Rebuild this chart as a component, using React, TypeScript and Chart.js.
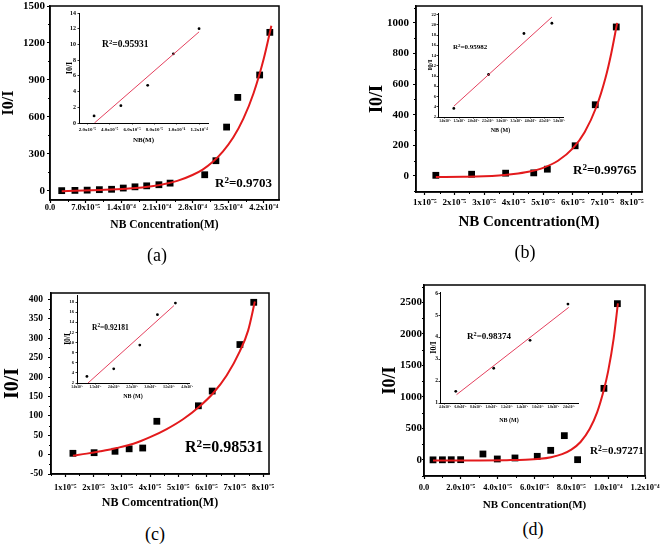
import React, { useEffect, useRef } from "react";
import { Chart, registerables } from "chart.js";

Chart.register(...registerables);

const SERIF = "'Liberation Serif', 'Times New Roman', Times, serif";
Chart.defaults.font.family = SERIF;

// ---------------- Panel (a) ----------------
const aX = [2.3e-5, 4.9e-5, 7.3e-5, 9.7e-5, 1.21e-4, 1.44e-4, 1.67e-4, 1.9e-4, 2.14e-4, 2.36e-4, 3.04e-4, 3.26e-4, 3.47e-4, 3.69e-4, 4.12e-4, 4.32e-4];
const aY = [1, 3, 5, 9, 12, 22, 32, 40, 49, 62, 130, 244, 517, 758, 940, 1286];
const aFitX = [2.3e-5, 1.0e-4, 1.5e-4, 2.0e-4, 2.5e-4, 2.8e-4, 3.0e-4, 3.2e-4, 3.4e-4, 3.6e-4, 3.8e-4, 4.0e-4, 4.2e-4, 4.35e-4];
const aFitY = [-4, 6, 16, 36, 80, 128, 172, 235, 320, 432, 585, 792, 1072, 1340];
const aXTicks = [0, 7e-5, 1.4e-4, 2.1e-4, 2.8e-4, 3.5e-4, 4.2e-4];
const aXLabels = ["0.0", "7.0x10⁻⁵", "1.4x10⁻⁴", "2.1x10⁻⁴", "2.8x10⁻⁴", "3.5x10⁻⁴", "4.2x10⁻⁴"];
const aYTicks = [0, 300, 600, 900, 1200, 1500];
// inset (a)
const iaX = [2.6e-5, 5.0e-5, 7.4e-5, 9.7e-5, 1.2e-4];
const iaY = [0.9, 2.2, 4.8, 8.8, 12.0];
const iaFitX = [2.63e-5, 1.2e-4];
const iaFitY = [0, 11.6];
const iaXTicks = [2e-5, 4e-5, 6e-5, 8e-5, 1.0e-4, 1.2e-4];
const iaXLabels = ["2.0x10⁻⁵", "4.0x10⁻⁵", "6.0x10⁻⁵", "8.0x10⁻⁵", "1.0x10⁻⁴", "1.2x10⁻⁴"];
const iaYTicks = [0, 2, 4, 6, 8, 10, 12, 14];

// ---------------- Panel (b) ----------------
const bX = [1.37e-5, 2.58e-5, 3.73e-5, 4.68e-5, 5.14e-5, 6.08e-5, 6.76e-5, 7.47e-5];
const bY = [4, 11, 18, 20, 44, 197, 465, 973];
const bFitX = [1.37e-5, 2.3e-5, 3.0e-5, 3.5e-5, 4.0e-5, 4.5e-5, 5.0e-5, 5.5e-5, 6.0e-5, 6.4e-5, 6.8e-5, 7.1e-5, 7.3e-5, 7.5e-5];
const bFitY = [-7, -5, -2, 3, 12, 27, 53, 99, 180, 286, 452, 636, 800, 1000];
const bXTicks = [1e-5, 2e-5, 3e-5, 4e-5, 5e-5, 6e-5, 7e-5, 8e-5];
const bXLabels = ["1x10⁻⁵", "2x10⁻⁵", "3x10⁻⁵", "4x10⁻⁵", "5x10⁻⁵", "6x10⁻⁵", "7x10⁻⁵", "8x10⁻⁵"];
const bYTicks = [0, 200, 400, 600, 800, 1000];
// inset (b)
const ibX = [1.31e-5, 2.53e-5, 3.77e-5, 4.75e-5];
const ibY = [3.67, 10.3, 18.3, 20.3];
const ibFitX = [1.31e-5, 4.75e-5];
const ibFitY = [4.1, 21.5];
const ibXTicks = [1.0e-5, 1.5e-5, 2.0e-5, 2.5e-5, 3.0e-5, 3.5e-5, 4.0e-5, 4.5e-5, 5.0e-5];
const ibXLabels = ["1.0x10⁻⁵", "1.5x10⁻⁵", "2.0x10⁻⁵", "2.5x10⁻⁵", "3.0x10⁻⁵", "3.5x10⁻⁵", "4.0x10⁻⁵", "4.5x10⁻⁵", "5.0x10⁻⁵"];
const ibYTicks = [2, 4, 6, 8, 10, 12, 14, 16, 18, 20, 22];

// ---------------- Panel (c) ----------------
const cX = [1.27e-5, 2.02e-5, 2.76e-5, 3.26e-5, 3.74e-5, 4.24e-5, 5.71e-5, 6.2e-5, 7.18e-5, 7.67e-5];
const cY = [3.4, 5, 8.6, 15, 17, 86, 126, 164, 284, 393];
const cFitX = [1.27e-5, 1.76e-5, 2.24e-5, 2.82e-5, 3.41e-5, 4.0e-5, 4.59e-5, 5.18e-5, 5.76e-5, 6.24e-5, 6.71e-5, 7.18e-5, 7.47e-5, 7.71e-5];
const cFitY = [-2.6, 2.6, 8.6, 17, 28, 45, 66, 92, 125, 159, 204, 267, 320, 395];
const cXTicks = [1e-5, 2e-5, 3e-5, 4e-5, 5e-5, 6e-5, 7e-5, 8e-5];
const cXLabels = ["1x10⁻⁵", "2x10⁻⁵", "3x10⁻⁵", "4x10⁻⁵", "5x10⁻⁵", "6x10⁻⁵", "7x10⁻⁵", "8x10⁻⁵"];
const cYTicks = [-50, 0, 50, 100, 150, 200, 250, 300, 350, 400];
// inset (c)
const icX = [1.27e-5, 2.0e-5, 2.71e-5, 3.19e-5, 3.68e-5];
const icY = [3.3, 4.8, 9.5, 15.5, 17.8];
const icFitX = [1.3e-5, 3.64e-5];
const icFitY = [2, 17.3];
const icXTicks = [1.0e-5, 1.5e-5, 2.0e-5, 2.5e-5, 3.0e-5, 3.5e-5, 4.0e-5];
const icXLabels = ["1.0x10⁻⁵", "1.5x10⁻⁵", "2.0x10⁻⁵", "2.5x10⁻⁵", "3.0x10⁻⁵", "3.5x10⁻⁵", "4.0x10⁻⁵"];
const icYTicks = [2, 4, 6, 8, 10, 12, 14, 16, 18];

// ---------------- Panel (d) ----------------
const dX = [4.9e-6, 1.0e-5, 1.48e-5, 1.99e-5, 3.2e-5, 3.98e-5, 4.94e-5, 6.15e-5, 6.88e-5, 7.62e-5, 8.34e-5, 9.77e-5, 1.05e-4];
const dY = [2, 3, 4, 5, 95, 16, 32, 58, 153, 386, 5, 1136, 2479];
const dFitX = [4.9e-6, 3.0e-5, 4.5e-5, 5.5e-5, 6.3e-5, 6.9e-5, 7.5e-5, 8.0e-5, 8.5e-5, 9.0e-5, 9.4e-5, 9.77e-5, 1.0e-4, 1.03e-4, 1.053e-4];
const dFitY = [-8, -7, -3, 3, 18, 44, 92, 164, 285, 495, 755, 1118, 1410, 1930, 2484];
const dXTicks = [0, 2e-5, 4e-5, 6e-5, 8e-5, 1.0e-4, 1.2e-4];
const dXLabels = ["0.0", "2.0x10⁻⁵", "4.0x10⁻⁵", "6.0x10⁻⁵", "8.0x10⁻⁵", "1.0x10⁻⁴", "1.2x10⁻⁴"];
const dYTicks = [0, 500, 1000, 1500, 2000, 2500];
// inset (d)
const idX = [5.4e-6, 1.03e-5, 1.5e-5, 1.99e-5];
const idY = [1.53, 2.58, 3.85, 5.5];
const idFitX = [5.5e-6, 2.0e-5];
const idFitY = [1.38, 5.35];
const idXTicks = [4e-6, 6e-6, 8e-6, 1.0e-5, 1.2e-5, 1.4e-5, 1.6e-5, 1.8e-5, 2.0e-5];
const idXLabels = ["4.0x10⁻⁶", "6.0x10⁻⁶", "8.0x10⁻⁶", "1.0x10⁻⁵", "1.2x10⁻⁵", "1.4x10⁻⁵", "1.6x10⁻⁵", "1.8x10⁻⁵", "2.0x10⁻⁵"];
const idYTicks = [1, 2, 3, 4, 5, 6];

const MAIN_RED = "#e31a1c";
const INSET_RED = "#e4405e";

type Spec = {
  frame: [number, number, number, number];
  box: boolean;
  minor: boolean;
  xMin: number; xMax: number; yMin: number; yMax: number;
  xTicks: number[]; xLabels: string[]; yTicks: number[];
  px: number[]; py: number[]; fx: number[]; fy: number[];
  ptStyle: string; ptRadius: number;
  fitColor: string; fitWidth: number; smooth: boolean;
  axisWidth: number;
  xTickLen: number; yTickLen: number;
  xTickSize: number; yTickSize: number;
  xTickCenter: number; yTickRight: number;
  xTitle: string; xTitleSize: number; xTitleY: number;
  yTitle: string; yTitleSize: number; yTitleX: number;
  minPadL: number; padT: number; padR: number;
};

function geom(s: Spec) {
  const [l, t, r, b] = s.frame;
  const canvasL = Math.floor(Math.min(l - s.minPadL, s.yTitleX - s.yTitleSize / 2 - 1));
  const canvasT = t - s.padT;
  const canvasB = Math.ceil(s.xTitleY + s.xTitleSize / 2 + 1);
  return {
    left: canvasL,
    top: canvasT,
    w: r + s.padR - canvasL,
    h: canvasB - canvasT,
    padL: l - canvasL,
    padB: canvasB - b,
    canvasB,
  };
}

// minor tick values halfway between the major ones (axis decoration only)
function halfSteps(ticks: number[], min: number, max: number) {
  const out: number[] = [];
  const step = ticks[1] - ticks[0];
  for (let i = 0; i < ticks.length; i++) {
    const before = ticks[i] - step / 2;
    const after = ticks[i] + step / 2;
    if (i === 0 && before >= min) out.push(before);
    if (after <= max) out.push(after);
  }
  return out;
}

function makeConfig(s: Spec): any {
  const g = geom(s);
  const [l, , , b] = s.frame;
  const boxPlugin = {
    id: "frameBox",
    afterDraw(chart: any) {
      const { ctx, chartArea: a } = chart;
      ctx.save();
      ctx.strokeStyle = "#000";
      if (s.minor) {
        ctx.lineWidth = 1;
        const xs = chart.scales.x;
        const ys = chart.scales.y;
        for (const v of halfSteps(s.xTicks, s.xMin, s.xMax)) {
          const px = Math.round(xs.getPixelForValue(v)) + 0.5;
          ctx.beginPath();
          ctx.moveTo(px, a.bottom);
          ctx.lineTo(px, a.bottom + 2);
          ctx.stroke();
        }
        for (const v of halfSteps(s.yTicks, s.yMin, s.yMax)) {
          const py = Math.round(ys.getPixelForValue(v)) + 0.5;
          ctx.beginPath();
          ctx.moveTo(a.left, py);
          ctx.lineTo(a.left - 2, py);
          ctx.stroke();
        }
      }
      if (s.box) {
        ctx.lineWidth = s.axisWidth;
        ctx.strokeRect(a.left, a.top, a.right - a.left, a.bottom - a.top);
      }
      ctx.restore();
    },
  };
  return {
    type: "scatter",
    data: {
      datasets: [
        {
          data: s.fx.map((x, i) => ({ x, y: s.fy[i] })),
          showLine: true,
          borderColor: s.fitColor,
          borderWidth: s.fitWidth,
          pointRadius: 0,
          cubicInterpolationMode: s.smooth ? "monotone" : "default",
          tension: 0,
          fill: false,
        },
        {
          data: s.px.map((x, i) => ({ x, y: s.py[i] })),
          showLine: false,
          pointStyle: s.ptStyle,
          pointRadius: s.ptRadius,
          backgroundColor: "#000",
          borderColor: "#000",
          borderWidth: 0,
        },
      ],
    },
    options: {
      responsive: false,
      animation: false,
      devicePixelRatio: 1,
      events: [],
      layout: { padding: { left: 0, top: s.padT, right: s.padR, bottom: 0 } },
      plugins: { legend: { display: false }, tooltip: { enabled: false } },
      scales: {
        x: {
          type: "linear",
          position: "bottom",
          min: s.xMin,
          max: s.xMax,
          afterBuildTicks: (sc: any) => {
            sc.ticks = s.xTicks.map((v) => ({ value: v }));
          },
          afterFit: (sc: any) => {
            sc.height = g.padB;
          },
          grid: {
            display: true,
            drawOnChartArea: false,
            drawTicks: true,
            tickLength: s.xTickLen,
            tickWidth: s.axisWidth * 0.8,
            tickColor: "#000",
          },
          border: { display: true, color: "#000", width: s.axisWidth },
          ticks: {
            autoSkip: false,
            maxRotation: 0,
            minRotation: 0,
            color: "#000",
            padding: Math.max(0, s.xTickCenter - b - s.xTickLen - s.xTickSize / 2),
            font: { family: SERIF, size: s.xTickSize, weight: "bold", lineHeight: 1 },
            callback: (_v: any, i: number) => s.xLabels[i],
          },
          title: {
            display: true,
            text: s.xTitle,
            color: "#000",
            font: { family: SERIF, size: s.xTitleSize, weight: "bold", lineHeight: 1 },
            padding: { top: 0, bottom: Math.max(0, g.canvasB - s.xTitleY - s.xTitleSize / 2) },
          },
        },
        y: {
          type: "linear",
          position: "left",
          min: s.yMin,
          max: s.yMax,
          afterBuildTicks: (sc: any) => {
            sc.ticks = s.yTicks.map((v) => ({ value: v }));
          },
          afterFit: (sc: any) => {
            sc.width = g.padL;
          },
          grid: {
            display: true,
            drawOnChartArea: false,
            drawTicks: true,
            tickLength: s.yTickLen,
            tickWidth: s.axisWidth * 0.8,
            tickColor: "#000",
          },
          border: { display: true, color: "#000", width: s.axisWidth },
          ticks: {
            autoSkip: false,
            color: "#000",
            padding: Math.max(0, l - s.yTickLen - s.yTickRight),
            font: { family: SERIF, size: s.yTickSize, weight: "bold", lineHeight: 1 },
            callback: (v: any) => String(v),
          },
          title: {
            display: true,
            text: s.yTitle,
            color: "#000",
            font: { family: SERIF, size: s.yTitleSize, weight: "bold", lineHeight: 1 },
            padding: { top: Math.max(0, s.yTitleX - g.left - s.yTitleSize / 2), bottom: 0 },
          },
        },
      },
    },
    plugins: [boxPlugin],
  };
}

const mainBase = {
  box: true,
  minor: true,
  ptStyle: "rect",
  ptRadius: 4.8,
  fitColor: MAIN_RED,
  fitWidth: 2,
  smooth: true,
  axisWidth: 1.5,
  xTickLen: 3,
  yTickLen: 3,
  minPadL: 30,
  padT: 10,
  padR: 22,
};

const insetBase = {
  box: false,
  minor: false,
  ptStyle: "circle",
  ptRadius: 1.4,
  fitColor: INSET_RED,
  fitWidth: 1,
  smooth: false,
  axisWidth: 1,
  xTickLen: 1.5,
  yTickLen: 1.5,
  minPadL: 12,
  padT: 6,
  padR: 14,
};

const specs: Spec[] = [
  {
    ...mainBase,
    frame: [50, 6, 279, 200],
    xMin: 0, xMax: 4.5e-4, yMin: -75, yMax: 1500,
    xTicks: aXTicks, xLabels: aXLabels, yTicks: aYTicks,
    px: aX, py: aY, fx: aFitX, fy: aFitY,
    xTickSize: 8.5, yTickSize: 11, xTickCenter: 208, yTickRight: 45,
    xTitle: "NB Concentration(M)", xTitleSize: 11.5, xTitleY: 225,
    yTitle: "I0/I", yTitleSize: 16, yTitleX: 9,
  },
  {
    ...mainBase,
    frame: [416, 6, 642, 192],
    xMin: 0.7e-5, xMax: 8.34e-5, yMin: -105, yMax: 1110,
    xTicks: bXTicks, xLabels: bXLabels, yTicks: bYTicks,
    px: bX, py: bY, fx: bFitX, fy: bFitY,
    xTickSize: 9, yTickSize: 11, xTickCenter: 203, yTickRight: 409,
    xTitle: "NB Concentration(M)", xTitleSize: 15, xTitleY: 222,
    yTitle: "I0/I", yTitleSize: 18, yTitleX: 377,
  },
  {
    ...mainBase,
    frame: [51, 293, 269, 474],
    xMin: 0.494e-5, xMax: 8.21e-5, yMin: -50, yMax: 417,
    xTicks: cXTicks, xLabels: cXLabels, yTicks: cYTicks,
    px: cX, py: cY, fx: cFitX, fy: cFitY,
    xTickSize: 8.5, yTickSize: 9.5, xTickCenter: 488, yTickRight: 43,
    xTitle: "NB Comcentration(M)", xTitleSize: 12, xTitleY: 503,
    yTitle: "I0/I", yTitleSize: 20, yTitleX: 13,
  },
  {
    ...mainBase,
    frame: [424, 285, 645, 476],
    yTickLen: 2,
    xMin: 0, xMax: 1.2e-4, yMin: -254, yMax: 2775,
    xTicks: dXTicks, xLabels: dXLabels, yTicks: dYTicks,
    px: dX, py: dY, fx: dFitX, fy: dFitY,
    xTickSize: 8.5, yTickSize: 11, xTickCenter: 488, yTickRight: 422,
    xTitle: "NB Concentration(M)", xTitleSize: 11, xTitleY: 505,
    yTitle: "I0/I", yTitleSize: 18, yTitleX: 390,
  },
  {
    ...insetBase,
    frame: [79, 13, 208, 123],
    xMin: 1.25e-5, xMax: 1.28e-4, yMin: 0, yMax: 14,
    xTicks: iaXTicks, xLabels: iaXLabels, yTicks: iaYTicks,
    px: iaX, py: iaY, fx: iaFitX, fy: iaFitY,
    xTickSize: 5, yTickSize: 6, xTickCenter: 130, yTickRight: 76,
    xTitle: "NB(M)", xTitleSize: 7, xTitleY: 140,
    yTitle: "I0/I", yTitleSize: 8, yTitleX: 70,
  },
  {
    ...insetBase,
    frame: [438, 13, 563, 117],
    xMin: 0.755e-5, xMax: 5.14e-5, yMin: 2, yMax: 22.3,
    xTicks: ibXTicks, xLabels: ibXLabels, yTicks: ibYTicks,
    px: ibX, py: ibY, fx: ibFitX, fy: ibFitY,
    xTickSize: 3.5, yTickSize: 4.5, xTickCenter: 121, yTickRight: 436,
    xTitle: "NB (M)", xTitleSize: 6, xTitleY: 130,
    yTitle: "I0/I", yTitleSize: 7, yTitleX: 430,
  },
  {
    ...insetBase,
    frame: [77, 295, 189, 383],
    xMin: 1.0e-5, xMax: 4.05e-5, yMin: 2, yMax: 19.4,
    xTicks: icXTicks, xLabels: icXLabels, yTicks: icYTicks,
    px: icX, py: icY, fx: icFitX, fy: icFitY,
    xTickSize: 3.5, yTickSize: 4.5, xTickCenter: 387, yTickRight: 74,
    xTitle: "NB (M)", xTitleSize: 6, xTitleY: 396,
    yTitle: "I0/I", yTitleSize: 7.5, yTitleX: 68,
  },
  {
    ...insetBase,
    frame: [440, 292, 578, 403],
    xMin: 3.36e-6, xMax: 2.12e-5, yMin: 1, yMax: 6.05,
    xTicks: idXTicks, xLabels: idXLabels, yTicks: idYTicks,
    px: idX, py: idY, fx: idFitX, fy: idFitY,
    xTickSize: 3.5, yTickSize: 5.5, xTickCenter: 407, yTickRight: 438,
    xTitle: "NB (M)", xTitleSize: 6, xTitleY: 420,
    yTitle: "I0/I", yTitleSize: 8, yTitleX: 434,
  },
];

const rLabels = [
  { text: "0.9703", left: 215, cy: 183, size: 13 },
  { text: "0.99765", left: 573, cy: 170, size: 13 },
  { text: "0.98531", left: 185, cy: 447, size: 16 },
  { text: "0.97271", left: 590, cy: 451, size: 11 },
  { text: "0.95931", left: 102, cy: 45, size: 9.5 },
  { text: "0.95982", left: 453, cy: 47, size: 7 },
  { text: "0.92181", left: 92, cy: 327, size: 7.5 },
  { text: "0.98374", left: 467, cy: 336, size: 9 },
];

const panelLabels = [
  { text: "(a)", cx: 157, cy: 256 },
  { text: "(b)", cx: 525, cy: 253 },
  { text: "(c)", cx: 155, cy: 535 },
  { text: "(d)", cx: 533, cy: 530 },
];

function Plot({ spec }: { spec: Spec }) {
  const ref = useRef<HTMLCanvasElement | null>(null);
  const g = geom(spec);
  useEffect(() => {
    if (!ref.current) return;
    const chart = new Chart(ref.current, makeConfig(spec));
    return () => chart.destroy();
  }, []);
  return (
    <canvas
      ref={ref}
      width={g.w}
      height={g.h}
      style={{ position: "absolute", left: g.left, top: g.top, width: g.w, height: g.h }}
    />
  );
}

export default function App() {
  return (
    <div
      style={{
        position: "absolute",
        left: 0,
        top: 0,
        width: 661,
        height: 545,
        overflow: "hidden",
        background: "#fff",
      }}
    >
      {specs.map((s, i) => (
        <Plot key={i} spec={s} />
      ))}
      {rLabels.map((r, i) => (
        <div
          key={"r" + i}
          style={{
            position: "absolute",
            left: r.left,
            top: r.cy - r.size * 0.6,
            fontFamily: SERIF,
            fontWeight: "bold",
            fontSize: r.size,
            lineHeight: 1.2,
            whiteSpace: "nowrap",
            color: "#000",
          }}
        >
          R<span style={{ fontSize: "0.7em", position: "relative", top: "-0.45em" }}>2</span>={r.text}
        </div>
      ))}
      {panelLabels.map((p, i) => (
        <div
          key={"p" + i}
          style={{
            position: "absolute",
            left: p.cx - 25,
            width: 50,
            top: p.cy - 18 * 0.6,
            textAlign: "center",
            fontFamily: SERIF,
            fontSize: 18,
            lineHeight: 1.2,
            color: "#000",
          }}
        >
          {p.text}
        </div>
      ))}
    </div>
  );
}
